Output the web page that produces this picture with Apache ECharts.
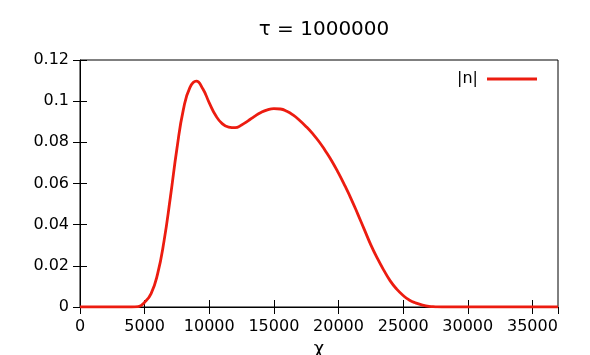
<!DOCTYPE html>
<html>
<head>
<meta charset="utf-8">
<script src="https://cdn.jsdelivr.net/npm/echarts@6/dist/echarts.min.js"></script>
<style>
  html, body {margin: 0; padding: 0; background: #fff;}
  #chart {width: 590px; height: 355px;}
</style>
</head>
<body>
<div id="chart"></div>
<script>
const titleText = 'τ = 1000000';
const seriesName = '|n|';
const chiValues = [
  0, 1000, 2000, 3000, 4000, 4500, 5000, 5500, 6000, 6500,
  7000, 7500, 8000, 8500, 9000, 9500, 10000, 10500, 11000, 11500,
  12000, 12500, 13000, 13500, 14000, 14500, 15000, 15500, 16000, 16500,
  17000, 17500, 18000, 18500, 19000, 19500, 20000, 20500, 21000, 21500,
  22000, 22500, 23000, 23500, 24000, 24500, 25000, 25500, 26000, 26500,
  27000, 27500, 28000, 30000, 32000, 34000, 36980
];
const nValues = [
  0, 0, 0, 0, 0, 0.0002, 0.0023, 0.0065, 0.0160, 0.0320,
  0.0537, 0.0770, 0.0960, 0.1066, 0.1097, 0.1060, 0.0992, 0.0930, 0.0891, 0.0874,
  0.0871, 0.0884, 0.0904, 0.0926, 0.0945, 0.0958, 0.0964, 0.0962, 0.0951, 0.0932,
  0.0906, 0.0876, 0.0842, 0.0803, 0.0757, 0.0707, 0.0650, 0.0588, 0.0522, 0.0450,
  0.0376, 0.0302, 0.0237, 0.0179, 0.0127, 0.0087, 0.0056, 0.0033, 0.0019, 0.0009,
  0.0003, 0.0001, 0, 0, 0, 0, 0
];
const xMax = 36980;
const yMax = 0.12;

const font = 'DejaVu Sans';
const chart = echarts.init(document.getElementById('chart'));

const tickIn = {show: true, inside: true, length: 7, lineStyle: {color: '#000', width: 1}};

chart.setOption({
  animation: false,
  title: {
    text: titleText,
    left: 319,
    textAlign: 'center',
    top: 15,
    textStyle: {fontFamily: font, fontSize: 20, fontWeight: 'normal', color: '#000'}
  },
  legend: {
    data: [{name: seriesName, icon: 'rect'}],
    right: 48,
    top: 66,
    align: 'right',
    itemWidth: 50,
    itemHeight: 3,
    textStyle: {fontFamily: font, fontSize: 16, color: '#000', padding: [0, 4, 0, 0]}
  },
  grid: {
    left: 80, right: 32, top: 60, bottom: 48,
    outerBoundsMode: 'none',
    containLabel: false,
    show: true, borderColor: '#000', borderWidth: 1
  },
  xAxis: [{
    type: 'value',
    min: 0, max: xMax, interval: 5000,
    position: 'bottom',
    splitLine: {show: false},
    axisLine: {show: true, lineStyle: {color: '#000'}},
    axisTick: tickIn,
    axisLabel: {
      fontFamily: font, fontSize: 16, color: '#000', margin: 12,
      showMaxLabel: false,
      formatter: v => String(v)
    },
    name: 'χ',
    nameLocation: 'middle',
    nameGap: 25,
    nameTextStyle: {fontFamily: font, fontSize: 18, color: '#000'}
  }, {
    type: 'value',
    min: 0, max: xMax, interval: 5000,
    position: 'top',
    splitLine: {show: false},
    axisLine: {show: false},
    axisTick: tickIn,
    axisLabel: {show: false}
  }],
  yAxis: [{
    type: 'value',
    min: 0, max: yMax, interval: 0.02,
    position: 'left',
    splitLine: {show: false},
    axisLine: {show: true, lineStyle: {color: '#000'}},
    axisTick: tickIn,
    axisLabel: {
      fontFamily: font, fontSize: 16, color: '#000', margin: 11,
      formatter: v => String(+v.toFixed(2))
    }
  }, {
    type: 'value',
    min: 0, max: yMax, interval: 0.02,
    position: 'right',
    splitLine: {show: false},
    axisLine: {show: false},
    axisTick: tickIn,
    axisLabel: {show: false}
  }],
  series: [{
    name: seriesName,
    type: 'line',
    data: chiValues.map((x, i) => [x, nValues[i]]),
    smooth: 0.5,
    showSymbol: false,
    color: '#ec1c10',
    lineStyle: {width: 2.8, color: '#ec1c10'}
  }]
});
</script>
</body>
</html>
